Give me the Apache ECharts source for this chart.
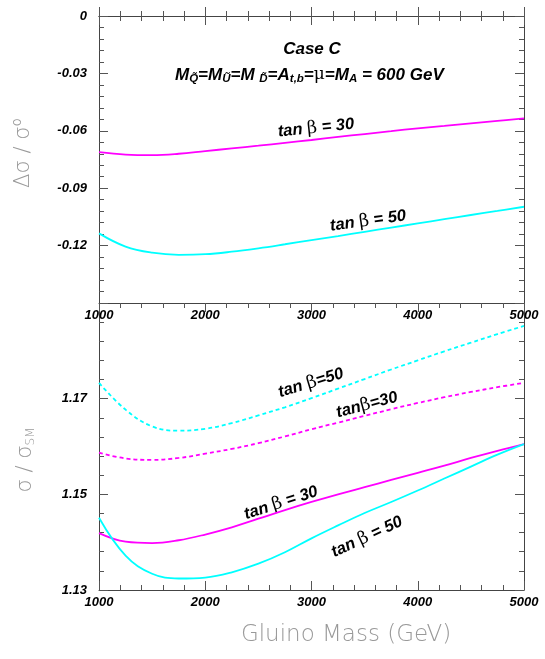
<!DOCTYPE html>
<html>
<head>
<meta charset="utf-8">
<script src="https://cdn.jsdelivr.net/npm/echarts@6/dist/echarts.min.js"></script>
<style>
  html, body { margin: 0; padding: 0; background: #fff; }
  #main { width: 545px; height: 659px; }
</style>
</head>
<body>
<div id="main"></div>
<script>
// gluino mass points (GeV)
var mass = [1000, 1250, 1500, 1750, 2000, 2250, 2500, 2750, 3000, 3250, 3500, 3750, 4000, 4250, 4500, 4750, 5000];

// upper panel: delta sigma / sigma0
var dTan30 = [-0.0712, -0.0724, -0.0727, -0.0720, -0.0706, -0.0692, -0.0678, -0.0663, -0.0648, -0.0632, -0.0617, -0.0602, -0.0587, -0.0574, -0.0561, -0.0548, -0.0535];
var dTan50 = [-0.1136, -0.1205, -0.1237, -0.1248, -0.1245, -0.1232, -0.1214, -0.1193, -0.1171, -0.1150, -0.1128, -0.1106, -0.1084, -0.1062, -0.1040, -0.1019, -0.0997];

// lower panel: sigma / sigma_SM
var rTan50Dash = [1.1733, 1.1677, 1.1642, 1.1633, 1.1637, 1.1649, 1.1665, 1.1682, 1.1701, 1.1721, 1.1741, 1.1761, 1.1780, 1.1799, 1.1817, 1.1835, 1.1852];
var rTan30Dash = [1.1587, 1.1575, 1.1572, 1.1576, 1.1585, 1.1595, 1.1607, 1.1621, 1.1636, 1.1650, 1.1664, 1.1678, 1.1691, 1.1703, 1.1714, 1.1724, 1.1733];
var rTan30 = [1.1419, 1.1401, 1.1398, 1.1404, 1.1416, 1.1431, 1.1449, 1.1467, 1.1484, 1.1500, 1.1515, 1.1530, 1.1545, 1.1560, 1.1576, 1.1591, 1.1605];
var rTan50 = [1.1451, 1.1372, 1.1334, 1.1324, 1.1326, 1.1337, 1.1355, 1.1379, 1.1408, 1.1435, 1.1461, 1.1484, 1.1508, 1.1533, 1.1558, 1.1583, 1.1605];

var MAGENTA = '#ff00ff';
var CYAN = '#00ffff';

function pairs(ys) {
  return mass.map(function (m, i) { return [m, ys[i]]; });
}

var lblFont = { color: '#000', fontSize: 13, fontWeight: 'bold', fontStyle: 'italic', fontFamily: 'Liberation Sans' };

function xAx(grid, pos, labels) {
  return {
    gridIndex: grid, type: 'value', position: pos, min: 1000, max: 5000, interval: 1000,
    axisLine: { show: true, lineStyle: { color: '#444', width: 1 } },
    axisTick: { show: true, inside: true, length: 9, lineStyle: { color: '#555' } },
    minorTick: { show: true, inside: true, splitNumber: 5, length: 5, lineStyle: { color: '#555' } },
    splitLine: { show: false },
    axisLabel: Object.assign({ show: labels, margin: 6, formatter: function (v) { return String(v); } }, lblFont)
  };
}

function yAx(grid, pos, labels, min, max, interval) {
  return {
    gridIndex: grid, type: 'value', position: pos, min: min, max: max, interval: interval,
    axisLine: { show: true, lineStyle: { color: '#444', width: 1 } },
    axisTick: { show: true, inside: true, length: 9, lineStyle: { color: '#555' } },
    minorTick: { show: true, inside: true, splitNumber: 5, length: 5, lineStyle: { color: '#555' } },
    splitLine: { show: false },
    axisLabel: Object.assign({
      show: labels, margin: 12,
      formatter: function (v) {
        if (Math.abs(v) < 1e-9) return '0';
        return v.toFixed(2);
      }
    }, lblFont)
  };
}

var yTop = yAx(0, 'left', true, -0.15, 0, 0.03);
yTop.axisLabel.showMinLabel = false;
var yBot = yAx(1, 'left', true, 1.13, 1.19, 0.02);
yBot.axisLabel.showMaxLabel = false;

function line(name, xi, yi, ys, color, dashed) {
  return {
    name: name, type: 'line', xAxisIndex: xi, yAxisIndex: yi,
    data: pairs(ys), showSymbol: false, smooth: 0.4,
    lineStyle: { color: color, width: 1.8, type: dashed ? [4, 3] : 'solid' },
    animation: false
  };
}

var tanRich = {
  t: { fontSize: 16.5, fontWeight: 'bold', fontStyle: 'italic', fontFamily: 'Liberation Sans', fill: '#000' },
  g: { fontSize: 17.5, fontFamily: 'DejaVu Serif', fill: '#000' }
};

function tanLabel(text, x, y, deg) {
  return {
    type: 'text', x: x, y: y, rotation: deg * Math.PI / 180,
    style: { text: text, rich: tanRich, align: 'center', verticalAlign: 'middle' }
  };
}

var chart = echarts.init(document.getElementById('main'));
var option = {
  backgroundColor: '#fff',
  animation: false,
  grid: [
    { left: 99, top: 16, width: 425, height: 287 },
    { left: 99, top: 303, width: 425, height: 287 }
  ],
  xAxis: [xAx(0, 'bottom', true), xAx(0, 'top', false), xAx(1, 'bottom', true), xAx(1, 'top', false)],
  yAxis: [yTop, yAx(0, 'right', false, -0.15, 0, 0.03), yBot, yAx(1, 'right', false, 1.13, 1.19, 0.02)],
  series: [
    line('tan30', 0, 0, dTan30, MAGENTA, false),
    line('tan50', 0, 0, dTan50, CYAN, false),
    line('tan50 dashed', 2, 2, rTan50Dash, CYAN, true),
    line('tan30 dashed', 2, 2, rTan30Dash, MAGENTA, true),
    line('tan30 solid', 2, 2, rTan30, MAGENTA, false),
    line('tan50 solid', 2, 2, rTan50, CYAN, false)
  ],
  graphic: [
    {
      type: 'text', x: 312, y: 49,
      style: { text: 'Case C', align: 'center', verticalAlign: 'middle', fill: '#000',
        fontSize: 17, fontWeight: 'bold', fontStyle: 'italic', fontFamily: 'Liberation Sans' }
    },
    {
      type: 'text', x: 175, y: 75,
      style: {
        text: '{m|M}{s|Q\u0303}{m|=M}{s|U\u0303}{m|=M }{s|D\u0303}{m|=A}{s|t,b}{m|=}{g|\u03bc}{m|=M}{s|A}{m| = 600 GeV}',
        align: 'left', verticalAlign: 'middle',
        rich: {
          m: { fontSize: 17, lineHeight: 20, fontWeight: 'bold', fontStyle: 'italic', fontFamily: 'Liberation Sans', fill: '#000' },
          s: { fontSize: 11.5, lineHeight: 10, verticalAlign: 'bottom', fontWeight: 'bold', fontStyle: 'italic', fontFamily: 'Liberation Sans', fill: '#000' },
          g: { fontSize: 17, lineHeight: 20, fontFamily: 'DejaVu Serif', fill: '#000' }
        }
      }
    },
    tanLabel('{t|tan }{g|\u03b2}{t| = 30}', 316, 128, 6),
    tanLabel('{t|tan }{g|\u03b2}{t| = 50}', 368, 221, 8),
    tanLabel('{t|tan }{g|\u03b2}{t|=50}', 311, 383, 17),
    tanLabel('{t|tan}{g|\u03b2}{t|=30}', 367, 405, 15),
    tanLabel('{t|tan }{g|\u03b2}{t| = 30}', 281, 503, 18),
    tanLabel('{t|tan }{g|\u03b2}{t| = 50}', 367, 537, 25),
    {
      type: 'text', x: 24, y: 153, rotation: Math.PI / 2,
      style: { text: '\u0394\u03c3 / \u03c3\u2070', align: 'center', verticalAlign: 'middle',
        fill: '#999', fontSize: 21, fontWeight: 200, fontFamily: 'DejaVu Sans' }
    },
    {
      type: 'text', x: 26, y: 460, rotation: Math.PI / 2,
      style: {
        text: '{n|\u03c3 / \u03c3}{s|SM}', align: 'center', verticalAlign: 'middle',
        rich: {
          n: { fill: '#999', fontSize: 21, lineHeight: 22, fontWeight: 200, fontFamily: 'DejaVu Sans' },
          s: { fill: '#999', fontSize: 12, lineHeight: 12, verticalAlign: 'bottom', fontWeight: 200, fontFamily: 'DejaVu Sans' }
        }
      }
    },
    {
      type: 'text', x: 346, y: 635,
      style: { text: 'Gluino Mass (GeV)', align: 'center', verticalAlign: 'middle',
        fill: '#999', fontSize: 23, fontWeight: 200, fontFamily: 'DejaVu Sans' }
    }
  ]
};
chart.setOption(option);
</script>
</body>
</html>
